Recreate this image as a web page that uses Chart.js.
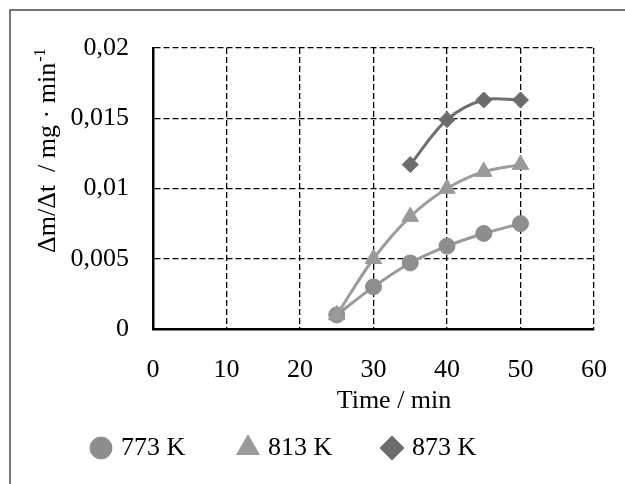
<!DOCTYPE html>
<html>
<head>
<meta charset="utf-8">
<script src="https://cdn.jsdelivr.net/npm/chart.js@4/dist/chart.umd.min.js"></script>
<style>
  html, body { margin: 0; padding: 0; background: #fff; }
  #wrap { width: 625px; height: 484px; }
</style>
</head>
<body>
<div id="wrap"><canvas id="c" width="625" height="484"></canvas></div>
<script>
// Sampling times (min)
const timeMin = [25, 30, 35, 40, 45, 50];
// Mass-loss rate Δm/Δt (mg·min⁻¹) per temperature
const rate773 = [0.001, 0.003, 0.0047, 0.0059, 0.0068, 0.0075];
const rate813 = [0.001, 0.005, 0.008, 0.010, 0.0112, 0.0117];
const rate873 = [null, null, 0.0117, 0.0149, 0.0163, 0.0163];
const seriesNames = ['773 K', '813 K', '873 K'];
const yTickLabels = ['0', '0,005', '0,01', '0,015', '0,02'];
const xTitle = 'Time / min';
const yTitle = 'Δm/Δt  / mg · min';
const yTitleSup = '-1';

const FONT = '"Liberation Serif", "Times New Roman", serif';

function toPoints(ys) {
  return timeMin.map((t, i) => ({ x: t, y: ys[i] })).filter(p => p.y !== null);
}

const styles = [
  { color: '#8e8e8e', line: '#999999', pointStyle: 'circle',   radius: 8,   legendR: 11 },
  { color: '#9a9a9a', line: '#9c9c9c', pointStyle: 'triangle', radius: 9.5, legendR: 13 },
  { color: '#6c6c6c', line: '#6f6f6f', pointStyle: 'rectRot',  radius: 8,   legendR: 12 }
];
const values = [rate773, rate813, rate873];

const datasets = values.map((v, i) => ({
  label: seriesNames[i],
  data: toPoints(v),
  borderColor: styles[i].line,
  backgroundColor: styles[i].color,
  borderWidth: 3,
  tension: 0.35,
  pointStyle: styles[i].pointStyle,
  pointRadius: styles[i].radius,
  pointBackgroundColor: styles[i].color,
  pointBorderColor: styles[i].color,
  pointBorderWidth: 1,
  order: 2 - i
}));

// Frame, axis titles and the legend row below the plot
const decorations = {
  id: 'decorations',
  beforeDraw(chart) {
    const ctx = chart.ctx;
    ctx.save();
    ctx.fillStyle = '#fff';
    ctx.fillRect(0, 0, chart.width, chart.height);
    ctx.strokeStyle = '#4a4a4a';
    ctx.lineWidth = 1.5;
    ctx.strokeRect(10, 10, chart.width + 20, chart.height + 20);
    ctx.restore();
  },
  afterDraw(chart) {
    const ctx = chart.ctx;
    ctx.save();
    ctx.fillStyle = '#000';

    // x-axis title
    ctx.font = '26px ' + FONT;
    ctx.textAlign = 'center';
    ctx.textBaseline = 'middle';
    ctx.fillText(xTitle, 394, 401);

    // y-axis title, rotated, with superscript
    ctx.save();
    ctx.translate(55, 253);
    ctx.rotate(-Math.PI / 2);
    ctx.textAlign = 'left';
    ctx.textBaseline = 'alphabetic';
    ctx.font = '26px ' + FONT;
    ctx.fillText(yTitle, 0, 0);
    const w = ctx.measureText(yTitle).width;
    ctx.font = '16px ' + FONT;
    ctx.fillText(yTitleSup, w + 1, -10);
    ctx.restore();

    // legend
    const centers = [101, 248, 392];
    const legendY = 448;
    chart.data.datasets.forEach((ds, i) => {
      ctx.fillStyle = styles[i].color;
      ctx.strokeStyle = styles[i].color;
      Chart.helpers.drawPoint(ctx, {
        pointStyle: styles[i].pointStyle,
        radius: styles[i].legendR,
        rotation: 0,
        borderWidth: 1
      }, centers[i], legendY);
      ctx.fillStyle = '#000';
      ctx.font = '26px ' + FONT;
      ctx.textAlign = 'left';
      ctx.textBaseline = 'middle';
      ctx.fillText(ds.label, centers[i] + 20, legendY);
    });
    ctx.restore();
  }
};

new Chart(document.getElementById('c'), {
  type: 'line',
  data: { datasets },
  options: {
    responsive: false,
    animation: false,
    layout: { padding: { top: 48, right: 31, left: 0, bottom: 0 } },
    plugins: {
      legend: { display: false },
      tooltip: { enabled: false }
    },
    scales: {
      x: {
        type: 'linear',
        min: 0,
        max: 60,
        afterFit(scale) {
          scale.height = 155;
          scale.paddingLeft = 0;
          scale.paddingRight = 0;
        },
        ticks: {
          stepSize: 10,
          padding: 26,
          color: '#000',
          font: { family: FONT, size: 26 },
          maxRotation: 0
        },
        grid: { color: '#000', lineWidth: 1.3, drawTicks: false },
        border: { display: true, color: '#000', width: 2.5, dash: [6, 3] }
      },
      y: {
        type: 'linear',
        min: 0,
        max: 0.02,
        afterFit(scale) {
          scale.width = 153;
          scale.paddingTop = 0;
          scale.paddingBottom = 0;
        },
        ticks: {
          stepSize: 0.005,
          padding: 24,
          color: '#000',
          font: { family: FONT, size: 26 },
          callback: (v, i) => yTickLabels[i]
        },
        grid: { color: '#000', lineWidth: 1.3, drawTicks: false },
        border: { display: true, color: '#000', width: 2.5, dash: [6, 3] }
      }
    }
  },
  plugins: [decorations]
});
</script>
</body>
</html>
